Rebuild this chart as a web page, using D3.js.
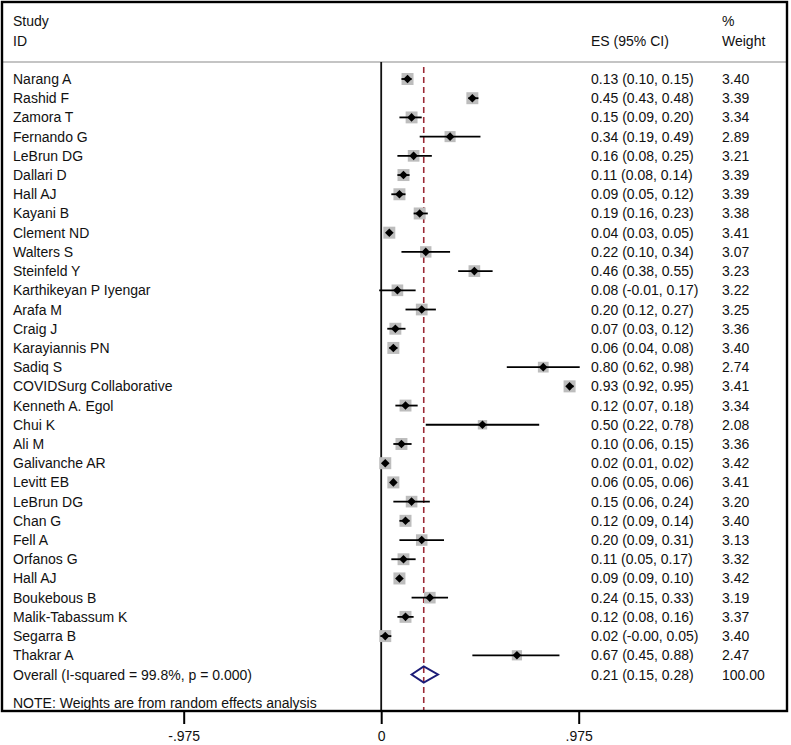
<!DOCTYPE html>
<html>
<head>
<meta charset="utf-8">
<script src="https://cdn.jsdelivr.net/npm/d3@7"></script>
<style>
  body { margin: 0; background: #fff; }
  text { font-family: "Liberation Sans", Arial, sans-serif; font-size: 14px; fill: #111; }
</style>
</head>
<body>
<script>
// study data
var studies = ["Narang A", "Rashid F", "Zamora T", "Fernando G", "LeBrun DG", "Dallari D", "Hall AJ",
    "Kayani B", "Clement ND", "Walters S", "Steinfeld Y", "Karthikeyan P Iyengar", "Arafa M", "Craig J",
    "Karayiannis PN", "Sadiq S", "COVIDSurg Collaborative", "Kenneth A. Egol", "Chui K", "Ali M",
    "Galivanche AR", "Levitt EB", "LeBrun DG", "Chan G", "Fell A", "Orfanos G", "Hall AJ",
    "Boukebous B", "Malik-Tabassum K", "Segarra B", "Thakrar A"];
var es = [0.13, 0.45, 0.15, 0.34, 0.16, 0.11, 0.09, 0.19, 0.04, 0.22, 0.46, 0.08, 0.20, 0.07,
    0.06, 0.80, 0.93, 0.12, 0.50, 0.10, 0.02, 0.06, 0.15, 0.12, 0.20, 0.11, 0.09, 0.24, 0.12, 0.02, 0.67];
var lower = [0.10, 0.43, 0.09, 0.19, 0.08, 0.08, 0.05, 0.16, 0.03, 0.10, 0.38, -0.01, 0.12, 0.03,
    0.04, 0.62, 0.92, 0.07, 0.22, 0.06, 0.01, 0.05, 0.06, 0.09, 0.09, 0.05, 0.09, 0.15, 0.08, -0.004, 0.45];
var upper = [0.15, 0.48, 0.20, 0.49, 0.25, 0.14, 0.12, 0.23, 0.05, 0.34, 0.55, 0.17, 0.27, 0.12,
    0.08, 0.98, 0.95, 0.18, 0.78, 0.15, 0.02, 0.06, 0.24, 0.14, 0.31, 0.17, 0.10, 0.33, 0.16, 0.05, 0.88];
var weight = [3.40, 3.39, 3.34, 2.89, 3.21, 3.39, 3.39, 3.38, 3.41, 3.07, 3.23, 3.22, 3.25, 3.36,
    3.40, 2.74, 3.41, 3.34, 2.08, 3.36, 3.42, 3.41, 3.20, 3.40, 3.13, 3.32, 3.42, 3.19, 3.37, 3.40, 2.47];

var overallLabel = "Overall  (I-squared = 99.8%, p = 0.000)";
var overallEs = 0.21, overallLo = 0.15, overallHi = 0.28, overallWeight = 100;
var noteText = "NOTE: Weights are from random effects analysis";

var tickValues = [-0.975, 0, 0.975];
var tickLabels = ["-.975", "0", ".975"];

function init() {
    var w = 791;
    var h = 745;
    var f2 = function (v) { return (v < 0 ? "-" : "") + Math.abs(v).toFixed(2); };
    var ciText = function (e, l, u) { return f2(e) + " (" + f2(l) + ", " + f2(u) + ")"; };

    var frameTop = 2, frameBottom = 711, frameLeft = 2, frameRight = 787;
    var headerLine = 62;

    var x = d3.scaleLinear().domain([-0.975, 0.975]).range([183.7, 578.7]);
    // row index -> vertical centre
    var y = d3.scaleLinear().domain([0, studies.length]).range([79, 674.5]);
    var boxSize = function (wt) { return 6.5 * Math.sqrt(wt); };

    var svg = d3.select("body").append("svg")
        .attr("width", w)
        .attr("height", h);

    // header
    var colStudy = 13, colEs = 591, colWt = 722;
    svg.append("text").attr("x", colStudy).attr("y", 26).text("Study");
    svg.append("text").attr("x", colStudy).attr("y", 46).text("ID");
    svg.append("text").attr("x", colEs).attr("y", 46).text("ES (95% CI)");
    svg.append("text").attr("x", colWt).attr("y", 26).text("%");
    svg.append("text").attr("x", colWt).attr("y", 46).text("Weight");

    svg.append("line")
        .attr("x1", frameLeft).attr("x2", frameRight)
        .attr("y1", headerLine).attr("y2", headerLine)
        .attr("stroke", "#c4c4c4").attr("stroke-width", 2);

    // null line at 0
    svg.append("line")
        .attr("x1", x(0)).attr("x2", x(0))
        .attr("y1", headerLine).attr("y2", frameBottom)
        .attr("stroke", "#111").attr("stroke-width", 1.8);

    // overall effect line
    svg.append("line")
        .attr("x1", x(overallEs)).attr("x2", x(overallEs))
        .attr("y1", 67).attr("y2", frameBottom)
        .attr("stroke", "#9b2a36").attr("stroke-width", 1.6)
        .attr("stroke-dasharray", "6,4");

    var rows = studies.map(function (s, i) {
        return { name: s, es: es[i], lo: lower[i], hi: upper[i], wt: weight[i], i: i };
    });

    var g = svg.selectAll("g.study")
        .data(rows)
        .enter()
        .append("g")
        .attr("class", "study");

    g.append("rect")
        .attr("x", function (d) { return x(d.es) - boxSize(d.wt) / 2; })
        .attr("y", function (d) { return y(d.i) - boxSize(d.wt) / 2; })
        .attr("width", function (d) { return boxSize(d.wt); })
        .attr("height", function (d) { return boxSize(d.wt); })
        .attr("fill", "#bdbdbd");

    g.append("line")
        .attr("x1", function (d) { return x(d.lo); })
        .attr("x2", function (d) { return x(d.hi); })
        .attr("y1", function (d) { return y(d.i); })
        .attr("y2", function (d) { return y(d.i); })
        .attr("stroke", "#000").attr("stroke-width", 1.8);

    g.append("path")
        .attr("d", function (d) {
            var cx = x(d.es), cy = y(d.i), r = 4.3;
            return "M" + (cx - r) + "," + cy + "L" + cx + "," + (cy - r) + "L" + (cx + r) + "," + cy + "L" + cx + "," + (cy + r) + "Z";
        })
        .attr("fill", "#000");

    g.append("text")
        .attr("x", colStudy)
        .attr("y", function (d) { return y(d.i) + 5; })
        .text(function (d) { return d.name; });

    g.append("text")
        .attr("x", colEs)
        .attr("y", function (d) { return y(d.i) + 5; })
        .text(function (d) { return ciText(d.es, d.lo, d.hi); });

    g.append("text")
        .attr("x", colWt)
        .attr("y", function (d) { return y(d.i) + 5; })
        .text(function (d) { return d.wt.toFixed(2); });

    // overall row
    var oy = y(studies.length);
    svg.append("path")
        .attr("d", "M" + x(overallLo) + "," + oy + "L" + x(overallEs) + "," + (oy - 8) +
            "L" + x(overallHi) + "," + oy + "L" + x(overallEs) + "," + (oy + 8) + "Z")
        .attr("fill", "none")
        .attr("stroke", "#1c1c78").attr("stroke-width", 2);
    svg.append("text").attr("x", colStudy).attr("y", oy + 5).text(overallLabel);
    svg.append("text").attr("x", colEs).attr("y", oy + 5).text(ciText(overallEs, overallLo, overallHi));
    svg.append("text").attr("x", colWt).attr("y", oy + 5).text(overallWeight.toFixed(2));

    svg.append("text").attr("x", colStudy).attr("y", 708).text(noteText);

    // frame
    svg.append("rect")
        .attr("x", frameLeft).attr("y", frameTop)
        .attr("width", frameRight - frameLeft).attr("height", frameBottom - frameTop)
        .attr("fill", "none").attr("stroke", "#000").attr("stroke-width", 2.4);

    // x axis
    var axis = d3.axisBottom(x)
        .tickValues(tickValues)
        .tickSize(13)
        .tickPadding(7)
        .tickFormat(function (d, i) { return tickLabels[i]; });
    var ax = svg.append("g")
        .attr("transform", "translate(0," + frameBottom + ")")
        .call(axis);
    ax.select(".domain").remove();
    ax.selectAll(".tick line").attr("stroke", "#000").attr("stroke-width", 2);
    ax.selectAll(".tick text")
        .attr("fill", "#111")
        .style("font-family", "\"Liberation Sans\", Arial, sans-serif")
        .style("font-size", "14px");
}
window.onload = init;
</script>
</body>
</html>
